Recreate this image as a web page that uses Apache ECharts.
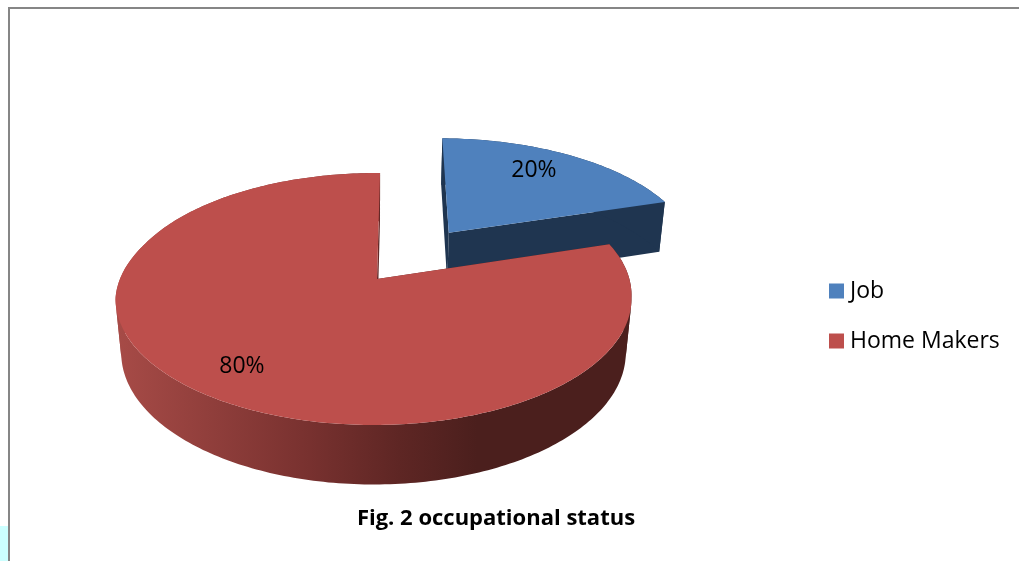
<!DOCTYPE html>
<html>
<head>
<meta charset="utf-8">
<style>html,body{margin:0;padding:0;background:#fff}#c{width:1019px;height:561px}</style>
<script src="https://cdn.jsdelivr.net/npm/echarts@6/dist/echarts.min.js"></script>
</head>
<body>
<div id="c"></div>
<script>
var categories = ['Job', 'Home Makers'];
var shareValues = [20, 80];
var explodeRatio = [0.5, 0];
var topColors = ['#4f81bd', '#bd4f4c'];
var chartTitle = 'Fig. 2 occupational status';

// Perspective model of the 3D pie
var FONT = '"Open Sans"';
var view = { cx: 377, cy: 279, rx: 254.7, ry: 122.8, k: 0.1587, depthY: 54.6, depthW: 0.022, startDeg: 0.8, labelR: 0.78 };
var ringSkew = [0, -3.5];
var labelNudge = [[-11, 0], [-3, 2]];
var total = shareValues.reduce(function (a, b) { return a + b; }, 0);

function project(x, v, z) {
  var w = 1 - view.k * v + view.depthW * z;
  return [view.cx + view.rx * x / w, view.cy + (view.ry * v + view.depthY * z) / w];
}
function sliceGeometry(idx) {
  var before = 0;
  for (var i = 0; i < idx; i++) before += shareValues[i];
  var a0 = (before / total * 360 + view.startDeg) * Math.PI / 180;
  var a1 = ((before + shareValues[idx]) / total * 360 + view.startDeg) * Math.PI / 180;
  var mid = (a0 + a1) / 2;
  return { idx: idx, a0: a0, a1: a1, mid: mid,
    ox: explodeRatio[idx] * Math.sin(mid), oy: -explodeRatio[idx] * Math.cos(mid) };
}
function ring(g, z) {
  var pts = [], n = Math.ceil((g.a1 - g.a0) / (Math.PI / 180));
  for (var i = 0; i <= n; i++) {
    var a = g.a0 + (g.a1 - g.a0) * i / n;
    var v = -Math.cos(a);
    var p = project(g.ox + Math.sin(a), g.oy + v, z);
    var t = Math.max(0, Math.min(1, (v + 0.3) / 0.45));
    p[0] += ringSkew[g.idx] * t;
    pts.push(p);
  }
  return pts;
}
function quadSign(a, b, c, d) {
  var pts = [a, b, c, d], s = 0;
  for (var i = 0; i < 4; i++) {
    var p = pts[i], q = pts[(i + 1) % 4];
    s += p[0] * q[1] - q[0] * p[1];
  }
  return s >= 0 ? 1 : -1;
}
// Wall strips grouped into runs of one winding so each run fills solidly
function wallBands(top, bottom) {
  var bands = [], start = 0, sign = null;
  for (var i = 0; i < top.length - 1; i++) {
    var s = quadSign(top[i], top[i + 1], bottom[i + 1], bottom[i]);
    if (sign !== null && s !== sign) {
      bands.push(top.slice(start, i + 1).concat(bottom.slice(start, i + 1).reverse()));
      start = i;
    }
    sign = s;
  }
  bands.push(top.slice(start).concat(bottom.slice(start).reverse()));
  return bands;
}
var wallFills = [
  '#1f3550',
  { type: 'linear', x: 116, y: 0, x2: 632, y2: 0, global: true, colorStops: [
    { offset: 0, color: '#a74b47' }, { offset: 0.36, color: '#7a3230' },
    { offset: 0.55, color: '#5e2624' }, { offset: 0.70, color: '#4b1f1d' }, { offset: 1, color: '#4b1f1d' }] }
];
function makeRender(idx) {
  return function (params, api) {
    var value = api.value(0);
    var g = sliceGeometry(idx);
    var top = ring(g, 0), bottom = ring(g, 1);
    var apexT = project(g.ox, g.oy, 0), apexB = project(g.ox, g.oy, 1);
    var wallStyle = { fill: wallFills[idx] };
    var kids = [
      { type: 'polygon', shape: { points: [apexT, top[0], bottom[0], apexB] }, style: wallStyle },
      { type: 'polygon', shape: { points: [apexT, top[top.length - 1], bottom[bottom.length - 1], apexB] }, style: wallStyle }
    ];
    wallBands(top, bottom).forEach(function (pts) {
      kids.push({ type: 'polygon', shape: { points: pts }, style: wallStyle });
    });
    kids.push({ type: 'polygon', shape: { points: [apexT].concat(top) }, style: { fill: topColors[idx] } });
    var lp = project(g.ox + view.labelR * Math.sin(g.mid), g.oy - view.labelR * Math.cos(g.mid), 0);
    kids.push({ type: 'text', x: lp[0] + labelNudge[idx][0], y: lp[1] + labelNudge[idx][1],
      style: { text: value + '%', fill: '#000', font: '23px ' + FONT, align: 'center', verticalAlign: 'middle' } });
    return { type: 'group', children: kids };
  };
}
var series = categories.map(function (name, i) {
  return { name: name, type: 'custom', coordinateSystem: 'none', silent: true,
    itemStyle: { color: topColors[i] }, renderItem: makeRender(i), data: [[shareValues[i]]] };
});

var chart = echarts.init(document.getElementById('c'));
chart.setOption({
  backgroundColor: '#fff',
  animation: false,
  title: { text: chartTitle, left: 496, top: 506, textAlign: 'center', padding: 0,
    textStyle: { fontFamily: FONT, fontSize: 22, fontWeight: 'bold', color: '#000', lineHeight: 26 } },
  legend: { data: categories, orient: 'vertical', left: 829, top: 279.5, padding: 0, itemWidth: 15, itemHeight: 15, itemGap: 27,
    selectedMode: false, icon: 'rect',
    textStyle: { fontFamily: FONT, fontSize: 23, color: '#000', lineHeight: 22, padding: [0, 0, 0, 1] } },
  graphic: [
    { type: 'rect', shape: { x: 0, y: 526, width: 8, height: 35 }, style: { fill: '#ccffff' }, silent: true },
    { type: 'rect', shape: { x: 8, y: 7, width: 1011, height: 2 }, style: { fill: '#868686' }, silent: true },
    { type: 'rect', shape: { x: 8, y: 7, width: 2, height: 554 }, style: { fill: '#868686' }, silent: true }
  ],
  series: series
});
</script>
</body>
</html>
